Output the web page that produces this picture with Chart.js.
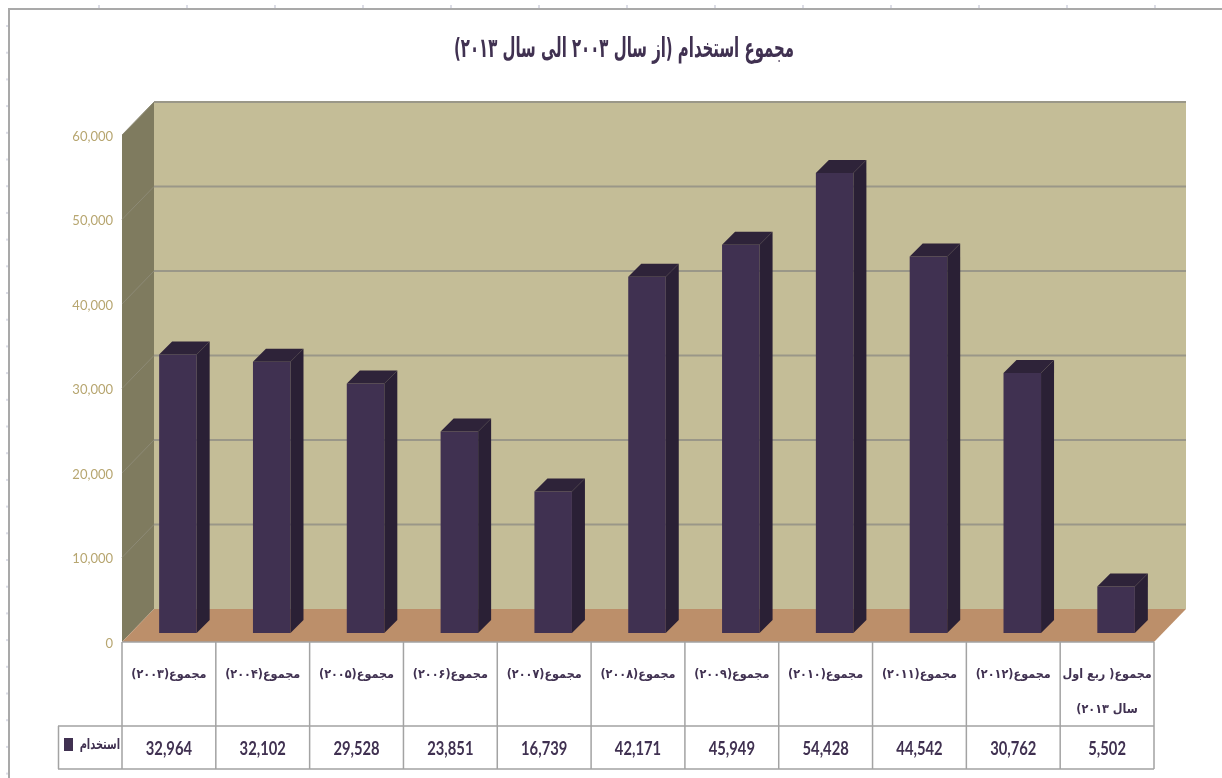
<!DOCTYPE html>
<html>
<head>
<meta charset="utf-8">
<title>مجموع استخدام</title>
<script src="https://cdn.jsdelivr.net/npm/chart.js@4"></script>
<style>
  html, body { margin: 0; padding: 0; background: #fff; overflow: hidden; }
  canvas { display: block; }
</style>
</head>
<body>
<canvas id="chart" width="1222" height="778" dir="rtl"></canvas>
<script>
const titleText = 'مجموع استخدام (از سال ۲۰۰۳ الی سال ۲۰۱۳)';
const seriesName = 'استخدام';
const categories = [
  'مجموع(۲۰۰۳)', 'مجموع(۲۰۰۴)', 'مجموع(۲۰۰۵)', 'مجموع(۲۰۰۶)', 'مجموع(۲۰۰۷)', 'مجموع(۲۰۰۸)',
  'مجموع(۲۰۰۹)', 'مجموع(۲۰۱۰)', 'مجموع(۲۰۱۱)', 'مجموع(۲۰۱۲)', ['مجموع( ربع اول', 'سال ۲۰۱۳)']
];
const values = [32964, 32102, 29528, 23851, 16739, 42171, 45949, 54428, 44542, 30762, 5502];

const arabicFont = '"DejaVu Sans Condensed", "DejaVu Sans", sans-serif';
const latinFont = 'Lato, "Open Sans", sans-serif';
const purple = '#403151';

// how far the back wall sits behind the front plane, and the bars inside that
const wallDx = 32, wallDy = 33;
const barShift = 9, barDepth = 13;

const fmt = (v) => v.toLocaleString('en-US');

// the reference type is much narrower than anything installed, so squeeze it
function squeezedText(ctx, text, x, y, sx) {
  ctx.save();
  ctx.translate(x, y);
  ctx.scale(sx, 1);
  ctx.fillText(text, 0, 0);
  ctx.restore();
}

const fakeThreeD = {
  id: 'fakeThreeD',
  beforeDraw(chart) {
    const { ctx, chartArea: a, scales } = chart;
    ctx.save();

    // the sheet frame with its faint ruler marks
    ctx.fillStyle = '#dcdde6';
    for (let y = 25; y < 778; y += 26.7) ctx.fillRect(6, y, 3, 2);
    for (let x = 98; x < 1222; x += 88) ctx.fillRect(x, 5, 2, 4);
    ctx.fillStyle = '#a9a9a9';
    ctx.fillRect(8, 8, 2, 770);
    ctx.fillRect(8, 8, 1214, 2);

    const poly = (pts, color) => {
      ctx.beginPath();
      pts.forEach((p, i) => (i ? ctx.lineTo(p[0], p[1]) : ctx.moveTo(p[0], p[1])));
      ctx.closePath();
      ctx.fillStyle = color;
      ctx.fill();
    };

    // back wall, side wall, floor
    poly([[a.left + wallDx, a.top - wallDy], [a.right + wallDx, a.top - wallDy],
          [a.right + wallDx, a.bottom - wallDy], [a.left + wallDx, a.bottom - wallDy]], '#c4bd97');
    poly([[a.left, a.top], [a.left + wallDx, a.top - wallDy],
          [a.left + wallDx, a.bottom - wallDy], [a.left, a.bottom]], '#7f7b5f');
    poly([[a.left, a.bottom], [a.left + wallDx, a.bottom - wallDy],
          [a.right + wallDx, a.bottom - wallDy], [a.right, a.bottom]], '#bc8f6a');

    // gridlines run along the wall and down the side wall
    scales.y.ticks.forEach((t) => {
      const y = scales.y.getPixelForValue(t.value);
      if (t.value > 0) {
        ctx.strokeStyle = '#8d8a76';
        ctx.lineWidth = 1;
        ctx.beginPath();
        ctx.moveTo(a.left, y);
        ctx.lineTo(a.left + wallDx, y - wallDy);
        ctx.stroke();
        ctx.strokeStyle = '#9a9788';
        ctx.lineWidth = 2;
        ctx.beginPath();
        ctx.moveTo(a.left + wallDx, y - wallDy);
        ctx.lineTo(a.right + wallDx, y - wallDy);
        ctx.stroke();
      }
    });
    ctx.restore();
  },
  beforeDatasetsDraw(chart) {
    chart.ctx.save();
    chart.ctx.translate(barShift, -barShift);
  },
  afterDatasetsDraw(chart) {
    const { ctx } = chart;
    chart.getDatasetMeta(0).data.forEach((bar) => {
      const l = bar.x - bar.width / 2, r = bar.x + bar.width / 2;
      ctx.fillStyle = '#2e2339';
      ctx.beginPath();
      ctx.moveTo(l, bar.y);
      ctx.lineTo(l + barDepth, bar.y - barDepth);
      ctx.lineTo(r + barDepth, bar.y - barDepth);
      ctx.lineTo(r, bar.y);
      ctx.closePath();
      ctx.fill();
      ctx.fillStyle = '#2a2035';
      ctx.beginPath();
      ctx.moveTo(r, bar.y);
      ctx.lineTo(r + barDepth, bar.y - barDepth);
      ctx.lineTo(r + barDepth, bar.base - barDepth);
      ctx.lineTo(r, bar.base);
      ctx.closePath();
      ctx.fill();
    });
    ctx.restore();
  },
  afterDraw(chart) {
    const { ctx, chartArea: a, scales } = chart;
    const rowTop = 726, rowBottom = 769, cellW = scales.x.width / categories.length;
    ctx.save();
    ctx.strokeStyle = '#a3a3a3';
    ctx.lineWidth = 1.5;
    ctx.beginPath();
    for (let i = 0; i <= categories.length; i++) {
      const x = a.left + i * cellW;
      ctx.moveTo(x, a.bottom);
      ctx.lineTo(x, rowBottom);
    }
    ctx.moveTo(58, rowTop);
    ctx.lineTo(a.right, rowTop);
    ctx.moveTo(58, rowBottom);
    ctx.lineTo(a.right, rowBottom);
    ctx.moveTo(a.left, a.bottom);
    ctx.lineTo(a.right, a.bottom);
    ctx.moveTo(58.5, rowTop);
    ctx.lineTo(58.5, rowBottom);
    ctx.stroke();

    ctx.fillStyle = purple;
    ctx.textBaseline = 'middle';

    // title sits off centre of both the canvas and the plot, so place it here
    ctx.font = 'bold 27px ' + arabicFont;
    ctx.textAlign = 'center';
    squeezedText(ctx, titleText, 624, 50, 0.615);

    // value row
    ctx.font = 'bold 18px ' + latinFont;
    values.forEach((v, i) => squeezedText(ctx, fmt(v), scales.x.getPixelForValue(i), 749, 0.82));

    // legend key in the first cell
    ctx.fillRect(64, 738, 9, 13);
    ctx.font = 'bold 14px ' + arabicFont;
    ctx.textAlign = 'right';
    squeezedText(ctx, seriesName, 120, 745, 0.78);
    ctx.restore();
  }
};

new Chart(document.getElementById('chart'), {
  type: 'bar',
  data: {
    labels: categories,
    datasets: [{
      label: seriesName,
      data: values,
      backgroundColor: purple,
      barPercentage: 0.4,
      categoryPercentage: 1
    }]
  },
  options: {
    responsive: false,
    animation: false,
    layout: { autoPadding: false, padding: { left: 0, right: 68, top: 135, bottom: 0 } },
    plugins: {
      legend: { display: false },
      tooltip: { enabled: false },
      title: { display: false }
    },
    scales: {
      x: {
        afterFit(s) { s.height = 136; },
        grid: { display: false, drawTicks: false },
        border: { display: false },
        ticks: {
          color: purple,
          maxRotation: 0,
          autoSkip: false,
          padding: 15,
          font: { family: arabicFont, size: 12.5, weight: 'bold', lineHeight: 2.8 }
        }
      },
      y: {
        min: 0,
        max: 60000,
        afterFit(s) { s.width = 122; },
        grid: { display: false, drawTicks: false },
        border: { display: false },
        ticks: {
          stepSize: 10000,
          color: '#b7a670',
          padding: 9,
          labelOffset: 1.5,
          font: { family: latinFont, size: 13 },
          callback: (v) => fmt(v)
        }
      }
    }
  },
  plugins: [fakeThreeD]
});
</script>
</body>
</html>
